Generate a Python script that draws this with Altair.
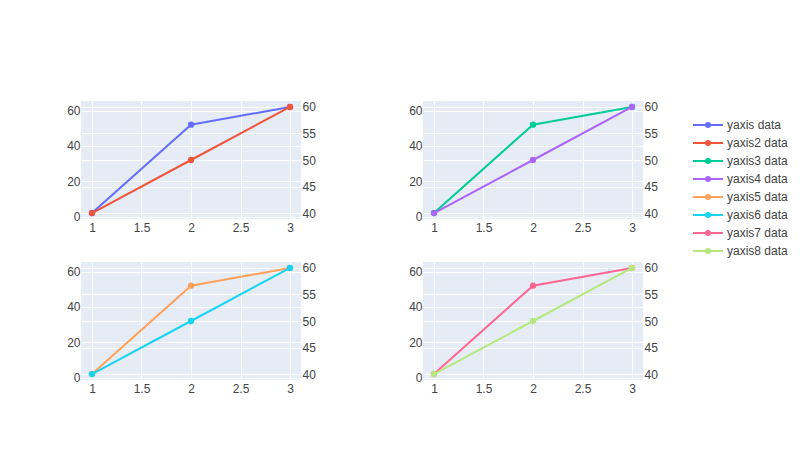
import altair as alt
import pandas as pd

# ---- data ----
series_names = ["yaxis data", "yaxis2 data", "yaxis3 data", "yaxis4 data",
                "yaxis5 data", "yaxis6 data", "yaxis7 data", "yaxis8 data"]
series_colors = ["#636efa", "#EF553B", "#00cc96", "#ab63fa",
                 "#FFA15A", "#19d3f3", "#FF6692", "#B6E880"]
x_values = [1, 2, 3]
primary_values = [2, 52, 62]      # left axis series
secondary_values = [40, 50, 60]   # right axis series
x_ticks = [1, 1.5, 2, 2.5, 3]
left_ticks = [0, 20, 40, 60]
right_ticks = [40, 45, 50, 55, 60]

rows = []
for i, name in enumerate(series_names):
    vals = primary_values if i % 2 == 0 else secondary_values
    for xv, yv in zip(x_values, vals):
        rows.append({"series": name, "x": xv, "y": yv})
df = pd.DataFrame(rows)

FONT = "Liberation Sans"
TXT = "#444444"
W, H = 220, 118

# stroked legend glyph: horizontal line + small filled dot (two concentric rings)
legend_path = ("M-5,0L5,0 "
               "M-0.67,0A0.67,0.67 0 1,1 0.67,0A0.67,0.67 0 1,1 -0.67,0 "
               "M-0.3,0A0.3,0.3 0 1,1 0.3,0A0.3,0.3 0 1,1 -0.3,0")

color = alt.Color(
    "series:N",
    scale=alt.Scale(domain=series_names, range=series_colors),
    legend=alt.Legend(
        title=None, orient="none", legendX=621, legendY=18,
        symbolType=legend_path, symbolSize=36, symbolStrokeWidth=2,
        symbolFillColor="transparent", symbolOpacity=1,
        labelFont=FONT, labelFontSize=12, labelColor=TXT, labelOffset=13,
        rowPadding=4,
    ),
)

xaxis = alt.Axis(values=x_ticks, format="~g", title=None, grid=True,
                 gridColor="white", gridWidth=1, domain=False, ticks=False,
                 labelFont=FONT, labelFontSize=12, labelColor=TXT,
                 labelPadding=3, labelFlush=False)


def yaxis(orient, ticks):
    return alt.Axis(orient=orient, values=ticks, title=None, grid=True,
                    gridColor="white", gridWidth=1, domain=False, ticks=False,
                    labelFont=FONT, labelFontSize=12, labelColor=TXT,
                    labelPadding=1, labelFlush=False)


def panel(s_left, s_right):
    base = alt.Chart(df)
    xenc = alt.X("x:Q", scale=alt.Scale(domain=[0.889, 3.111], nice=False, zero=False),
                 axis=xaxis)
    left = base.transform_filter(alt.datum.series == s_left).mark_line(
        strokeWidth=2, point=alt.OverlayMarkDef(size=40, filled=True, opacity=1)
    ).encode(
        x=xenc,
        y=alt.Y("y:Q", scale=alt.Scale(domain=[-1.38, 65.38], nice=False, zero=False),
                axis=yaxis("left", left_ticks)),
        color=color,
    )
    right = base.transform_filter(alt.datum.series == s_right).mark_line(
        strokeWidth=2, point=alt.OverlayMarkDef(size=40, filled=True, opacity=1)
    ).encode(
        x=xenc,
        y=alt.Y("y:Q", scale=alt.Scale(domain=[38.88, 61.12], nice=False, zero=False),
                axis=yaxis("right", right_ticks)),
        color=color,
    )
    return alt.layer(left, right).resolve_scale(y="independent").properties(
        width=W, height=H)


chart = alt.concat(
    panel(series_names[0], series_names[1]),
    panel(series_names[2], series_names[3]),
    panel(series_names[4], series_names[5]),
    panel(series_names[6], series_names[7]),
    columns=2, spacing={"row": 43, "column": 122}, bounds="flush",
).properties(
    padding={"left": 66, "top": 100, "right": 5, "bottom": 5},
    background="white",
).configure_view(fill="#E5ECF6", stroke=None)

chart.save("out.html", embed_options={"renderer": "svg", "actions": False})
